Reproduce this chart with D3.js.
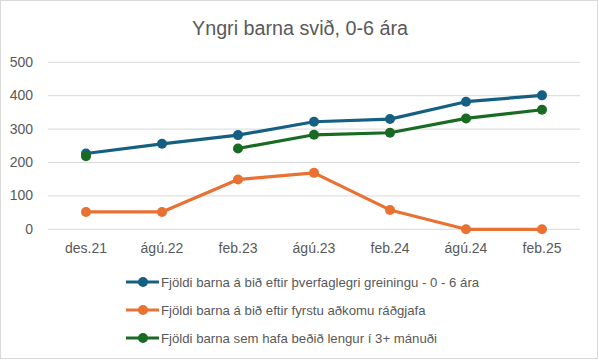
<!DOCTYPE html>
<html><head><meta charset="utf-8">
<script src="https://cdn.jsdelivr.net/npm/d3@7"></script>
<style>body{margin:0;background:#fff}svg{display:block}</style>
</head><body><svg id="c" width="599" height="360"></svg>
<script>
const title = "Yngri barna svið, 0-6 ára";
const categories = ["des.21","ágú.22","feb.23","ágú.23","feb.24","ágú.24","feb.25"];
const yTicks = [0,100,200,300,400,500];
const seriesNames = ["Fjöldi barna á bið eftir þverfaglegri greiningu - 0 - 6 ára","Fjöldi barna á bið eftir fyrstu aðkomu ráðgjafa","Fjöldi barna sem hafa beðið lengur í 3+ mánuði"];
const blueValues = [227,256,282,322,330,382,401];
const orangeValues = [52,52,149,169,58,0,0];
const greenValues = [219,null,242,283,289,332,358];
const colors = ["#156082","#E97132","#196B24"];

const font = "'Liberation Sans Narrow','Arial Narrow','Liberation Sans',sans-serif";
const svg = d3.select("#c");
svg.append("rect").attr("x",0.5).attr("y",0.5).attr("width",597).attr("height",358).attr("fill","#fff").attr("stroke","#d9d9d9");

const x = d3.scaleBand().domain(categories).range([48,580]);
const y = d3.scaleLinear().domain([0,500]).range([229.3,62.3]);

svg.append("text").attr("x",300).attr("y",35).attr("text-anchor","middle")
  .attr("font-family",font).attr("font-size",20).attr("fill","#595959")
  .attr("textLength",216).attr("lengthAdjust","spacingAndGlyphs").text(title);

const g = svg.append("g");
g.selectAll("line.grid").data(yTicks).enter().append("line")
  .attr("x1",48).attr("x2",580).attr("y1",d=>y(d)).attr("y2",d=>y(d))
  .attr("stroke","#d9d9d9").attr("stroke-width",1);
g.selectAll("text.yt").data(yTicks).enter().append("text")
  .attr("x",33).attr("y",d=>y(d)+4.5).attr("text-anchor","end")
  .attr("font-family",font).attr("font-size",14).attr("fill","#595959").text(d=>d);
g.selectAll("text.xt").data(categories).enter().append("text")
  .attr("x",d=>x(d)+x.bandwidth()/2).attr("y",253).attr("text-anchor","middle")
  .attr("font-family",font).attr("font-size",14).attr("fill","#595959").text(d=>d);

const all = [blueValues,orangeValues,greenValues];
const line = d3.line().defined(d=>d.v!=null).x(d=>x(d.c)+x.bandwidth()/2).y(d=>y(d.v));
all.forEach((vals,i)=>{
  const data = vals.map((v,j)=>({c:categories[j],v}));
  g.append("path").attr("d",line(data)).attr("fill","none").attr("stroke",colors[i]).attr("stroke-width",3.2).attr("stroke-linejoin","round");
  g.selectAll(null).data(data.filter(d=>d.v!=null)).enter().append("circle")
    .attr("cx",d=>x(d.c)+x.bandwidth()/2).attr("cy",d=>y(d.v)).attr("r",5).attr("fill",colors[i]);
});

const ly = [282,310,338];
seriesNames.forEach((n,i)=>{
  svg.append("line").attr("x1",126).attr("x2",159).attr("y1",ly[i]).attr("y2",ly[i]).attr("stroke",colors[i]).attr("stroke-width",3.2);
  svg.append("circle").attr("cx",143).attr("cy",ly[i]).attr("r",5).attr("fill",colors[i]);
  svg.append("text").attr("x",161).attr("y",ly[i]+4.5).attr("font-family",font).attr("font-size",13.2).attr("fill","#595959").text(n);
});
</script></body></html>
